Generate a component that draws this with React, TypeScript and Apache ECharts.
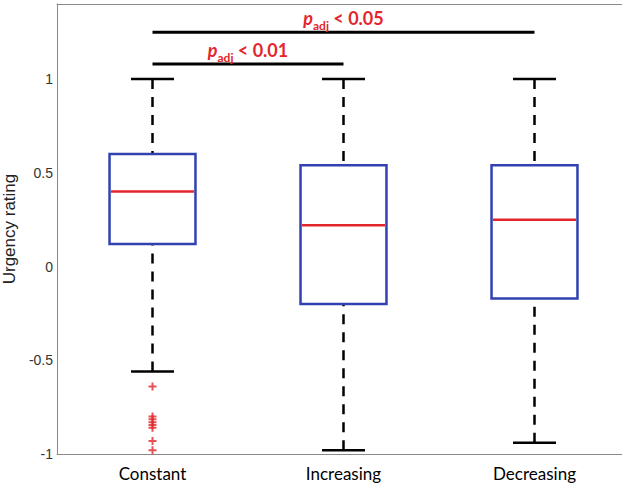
import React, { useEffect, useRef } from "react";
import * as echarts from "echarts";

const categories = ["Constant", "Increasing", "Decreasing"];
// [min whisker, Q1, median, Q3, max whisker]
const boxStats = [
  [-0.56, 0.12, 0.4, 0.6, 1.0],
  [-0.98, -0.2, 0.22, 0.54, 1.0],
  [-0.94, -0.17, 0.25, 0.54, 1.0],
];
const outliers: [string, number][] = [
  ["Constant", -0.64],
  ["Constant", -0.8],
  ["Constant", -0.815],
  ["Constant", -0.83],
  ["Constant", -0.845],
  ["Constant", -0.86],
  ["Constant", -0.93],
  ["Constant", -0.98],
];
const brackets = [
  { from: "Constant", to: "Decreasing", y: 1.25, text: "< 0.05" },
  { from: "Constant", to: "Increasing", y: 1.08, text: "< 0.01" },
];
const yTicks = [-1, -0.5, 0, 0.5, 1];

const BLUE = "#3142b0";
const RED = "#e3262b";
const AXIS = "#8a8a8a";
const PLUS = "path://M3,0H5V3H8V5H5V8H3V5H0V3H3Z";

export default function App() {
  const ref = useRef<HTMLDivElement>(null);
  useEffect(() => {
    document.body.style.margin = "0";
    const chart = echarts.init(ref.current!, undefined, { renderer: "svg" });
    const boxData = boxStats.map((s, i) => [i, ...s]);
    const bracketData = brackets.map((b) => [categories.indexOf(b.from), categories.indexOf(b.to), b.y]);
    const option: any = {
      animation: false,
      grid: { left: 57, top: 4, width: 573, height: 450, outerBoundsMode: "none" },
      xAxis: [
        {
          type: "category",
          data: categories,
          axisLine: { onZero: false, lineStyle: { color: AXIS, width: 1 } },
          axisTick: { inside: true, alignWithLabel: true, length: 5, lineStyle: { color: AXIS } },
          axisLabel: { color: "#000", fontFamily: "Lato", fontSize: 17, margin: 11 },
          splitLine: { show: false },
        },
        {
          type: "category",
          data: categories,
          position: "top",
          axisLine: { onZero: false, lineStyle: { color: AXIS, width: 1 } },
          axisTick: { inside: true, alignWithLabel: true, length: 5, lineStyle: { color: AXIS } },
          axisLabel: { show: false },
          splitLine: { show: false },
        },
      ],
      yAxis: {
        type: "value",
        min: -1,
        max: 1.4,
        interval: 0.5,
        name: "Urgency rating",
        nameLocation: "middle",
        nameGap: 36,
        nameTextStyle: { fontFamily: "Liberation Sans", fontSize: 17, color: "#222" },
        axisLine: { show: true, onZero: false, lineStyle: { color: AXIS, width: 1 } },
        axisTick: { inside: true, length: 6, lineStyle: { color: AXIS } },
        axisLabel: {
          fontFamily: "Liberation Sans", fontSize: 14, color: "#333", margin: 4,
          formatter: (v: number) => (yTicks.some((t) => Math.abs(t - v) < 1e-6) ? String(v) : ""),
        },
        splitLine: { show: false },
      },
      series: [
        {
          type: "custom",
          clip: false,
          data: boxData,
          encode: { x: 0, y: [1, 2, 3, 4, 5] },
          renderItem: (params: any, api: any) => {
            const idx = api.value(0);
            const band = api.size([1, 0])[0];
            const bw = band * 0.45;
            const cw = band * 0.225;
            const pMin = api.coord([idx, api.value(1)]);
            const pQ1 = api.coord([idx, api.value(2)]);
            const pMed = api.coord([idx, api.value(3)]);
            const pQ3 = api.coord([idx, api.value(4)]);
            const pMax = api.coord([idx, api.value(5)]);
            const cx = pMin[0];
            const dash = { stroke: "#000", lineWidth: 2.5, lineDash: [10, 8] };
            const solid = { stroke: "#000", lineWidth: 2.5 };
            return {
              type: "group",
              children: [
                { type: "line", shape: { x1: cx, y1: pMax[1], x2: cx, y2: pQ3[1] }, style: dash },
                { type: "line", shape: { x1: cx, y1: pMin[1], x2: cx, y2: pQ1[1] }, style: dash },
                { type: "line", shape: { x1: cx - cw / 2, y1: pMax[1], x2: cx + cw / 2, y2: pMax[1] }, style: solid },
                { type: "line", shape: { x1: cx - cw / 2, y1: pMin[1], x2: cx + cw / 2, y2: pMin[1] }, style: solid },
                { type: "rect", shape: { x: cx - bw / 2, y: pQ3[1], width: bw, height: pQ1[1] - pQ3[1] }, style: { fill: "#fff", stroke: BLUE, lineWidth: 2.5 } },
                { type: "line", shape: { x1: cx - bw / 2 + 1.5, y1: pMed[1], x2: cx + bw / 2 - 1.5, y2: pMed[1] }, style: { stroke: RED, lineWidth: 2.5 } },
              ],
            };
          },
          z: 2,
        },
        {
          type: "custom",
          clip: false,
          data: bracketData,
          encode: { x: [0, 1], y: 2 },
          renderItem: (params: any, api: any) => {
            const a = api.coord([api.value(0), api.value(2)]);
            const b = api.coord([api.value(1), api.value(2)]);
            const txt = brackets[params.dataIndex].text;
            return {
              type: "group",
              children: [
                { type: "line", shape: { x1: a[0], y1: a[1], x2: b[0], y2: b[1] }, style: { stroke: "#000", lineWidth: 3 } },
                {
                  type: "text",
                  x: (a[0] + b[0]) / 2,
                  y: a[1] - 1,
                  style: {
                    text: `{p|p}{s|adj}{t| ${txt}}`,
                    align: "center",
                    verticalAlign: "bottom",
                    rich: {
                      p: { fontFamily: "Lato", fontWeight: "bold", fontStyle: "italic", fontSize: 18, fill: RED, padding: [0, 0, 4, 0], verticalAlign: "bottom" },
                      s: { fontFamily: "Lato", fontWeight: "bold", fontSize: 12, fill: RED, verticalAlign: "bottom" },
                      t: { fontFamily: "Lato", fontWeight: "bold", fontSize: 18, fill: RED, padding: [0, 0, 4, 0], verticalAlign: "bottom" },
                    },
                  },
                },
              ],
            };
          },
          z: 4,
        },
        {
          type: "scatter",
          data: outliers,
          symbol: PLUS,
          symbolSize: 8,
          itemStyle: { color: RED },
          z: 3,
        },
      ],
    };
    chart.setOption(option);
    return () => chart.dispose();
  }, []);
  return <div ref={ref} style={{ width: 622, height: 488 }} />;
}
